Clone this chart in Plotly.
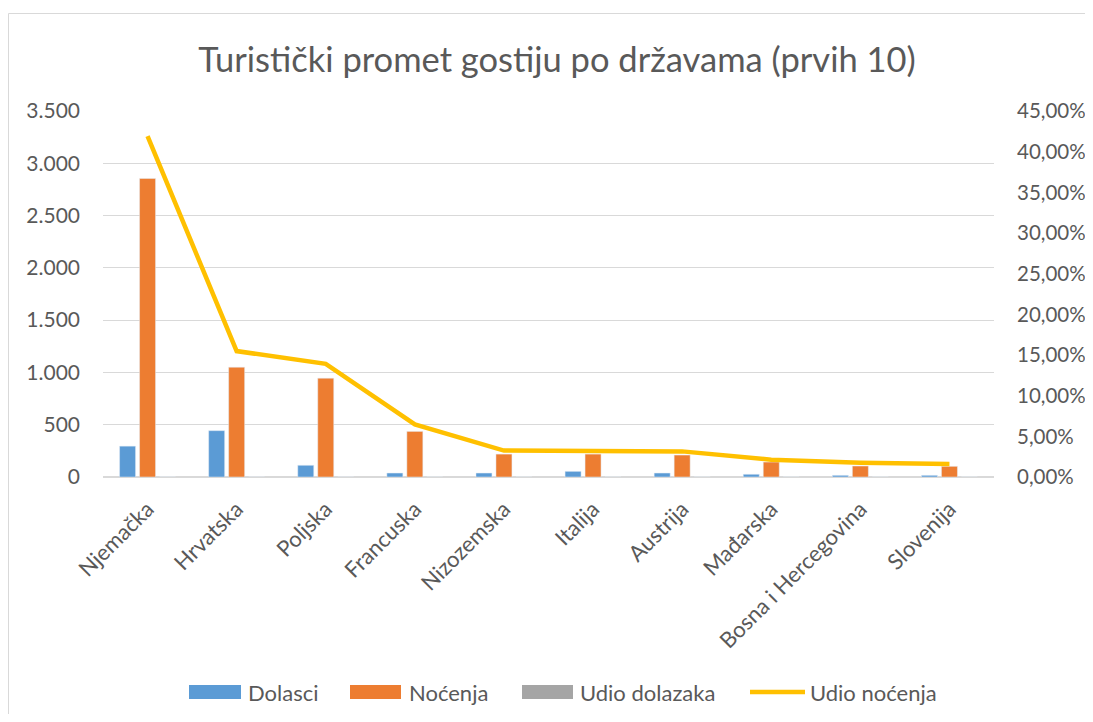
import plotly.graph_objects as go

categories = ["Njemačka", "Hrvatska", "Poljska", "Francuska", "Nizozemska",
              "Italija", "Austrija", "Mađarska", "Bosna i Hercegovina", "Slovenija"]
dolasci = [295, 443, 112, 38, 38, 54, 38, 26, 16, 16]
nocenja = [2855, 1050, 945, 436, 219, 219, 210, 143, 105, 102]
udio_dolazaka = [0.25, 0.376, 0.095, 0.032, 0.032, 0.046, 0.032, 0.022, 0.014, 0.014]
udio_nocenja = [0.419, 0.1548, 0.1392, 0.0646, 0.0325, 0.0325, 0.0315, 0.0213, 0.0176, 0.0160]

series_names = ["Dolasci", "Noćenja", "Udio dolazaka", "Udio noćenja"]
colors = ["#5B9BD5", "#ED7D31", "#A5A5A5", "#FFC000"]
title_text = "Turistički promet gostiju po državama (prvih 10)"

OFF = 8  # page body margin
W, H = 1093 - OFF, 722 - 2 * OFF
L, R, T, B = 103 - OFF, 994 - OFF, 111 - OFF, 477 - OFF
font_family = "Lato, 'Open Sans', sans-serif"
txt_color = "#595959"

fig = go.Figure()
fig.add_trace(go.Bar(x=categories, y=dolasci, name=series_names[0], marker_color=colors[0], showlegend=False))
fig.add_trace(go.Bar(x=categories, y=nocenja, name=series_names[1], marker_color=colors[1], showlegend=False))
fig.add_trace(go.Bar(x=categories, y=udio_dolazaka, name=series_names[2], marker_color=colors[2], showlegend=False))
fig.add_trace(go.Scatter(x=categories, y=udio_nocenja, name=series_names[3], mode="lines",
                         line=dict(color=colors[3], width=4.5), yaxis="y2", showlegend=False))

def px_x(p):
    # p in screen pixels
    return (p - OFF - L) / (R - L)

def px_y(p):
    return (B - (p - OFF)) / (B - T)

shapes = []
annotations = []
# chart border
shapes.append(dict(type="rect", xref="paper", yref="paper",
                   x0=px_x(8.5), x1=px_x(1300), y0=px_y(1000), y1=px_y(13.5),
                   line=dict(color="#D9D9D9", width=1), fillcolor="rgba(0,0,0,0)", layer="below"))

# custom legend
leg_y = 692
swatches = [(189, 241), (350, 401), (522, 573), (750, 805)]
text_x = [246, 407, 578, 808]
for i, name in enumerate(series_names):
    x0, x1 = swatches[i]
    if i < 3:
        shapes.append(dict(type="rect", xref="paper", yref="paper",
                           x0=px_x(x0), x1=px_x(x1), y0=px_y(leg_y + 7), y1=px_y(leg_y - 7),
                           line=dict(width=0), fillcolor=colors[i]))
    else:
        shapes.append(dict(type="line", xref="paper", yref="paper",
                           x0=px_x(x0), x1=px_x(x1), y0=px_y(leg_y), y1=px_y(leg_y),
                           line=dict(color=colors[i], width=4.5)))
    annotations.append(dict(xref="paper", yref="paper", x=px_x(text_x[i]), y=px_y(leg_y),
                            xanchor="left", yanchor="middle", text=name, showarrow=False,
                            font=dict(family=font_family, size=22, color=txt_color)))

fig.update_layout(
    width=W, height=H,
    margin=dict(l=L, r=W - R, t=T, b=H - B, pad=0, autoexpand=False),
    paper_bgcolor="white", plot_bgcolor="white",
    separators=",.",
    font=dict(family=font_family, size=21, color=txt_color),
    title=dict(text=title_text, x=px_x(557), xref="paper", xanchor="center",
               y=1 - (60 - OFF) / H, yref="container", yanchor="middle",
               font=dict(family=font_family, size=34.5, color=txt_color)),
    barmode="group", bargap=0.327, bargroupgap=0.2,
    showlegend=False,
    xaxis=dict(tickangle=-45, showgrid=False, showline=False, ticks="", automargin=False,
               ticklabelstandoff=14, tickfont=dict(size=22, color=txt_color)),
    yaxis=dict(range=[0, 3500], dtick=500, tickformat=",d", showgrid=True, gridcolor="#D9D9D9",
               gridwidth=1, zeroline=True, zerolinecolor="#D9D9D9", zerolinewidth=1.5,
               showline=False, ticks="", ticklabelstandoff=22, automargin=False,
               tickfont=dict(size=21, color=txt_color)),
    yaxis2=dict(range=[0, 0.45], dtick=0.05, tickformat=".2%", overlaying="y", side="right",
                showgrid=False, zeroline=False, showline=False, ticks="", ticklabelstandoff=22,
                automargin=False, tickfont=dict(size=20.5, color=txt_color)),
    shapes=shapes, annotations=annotations,
)

fig.write_html("out.html")
